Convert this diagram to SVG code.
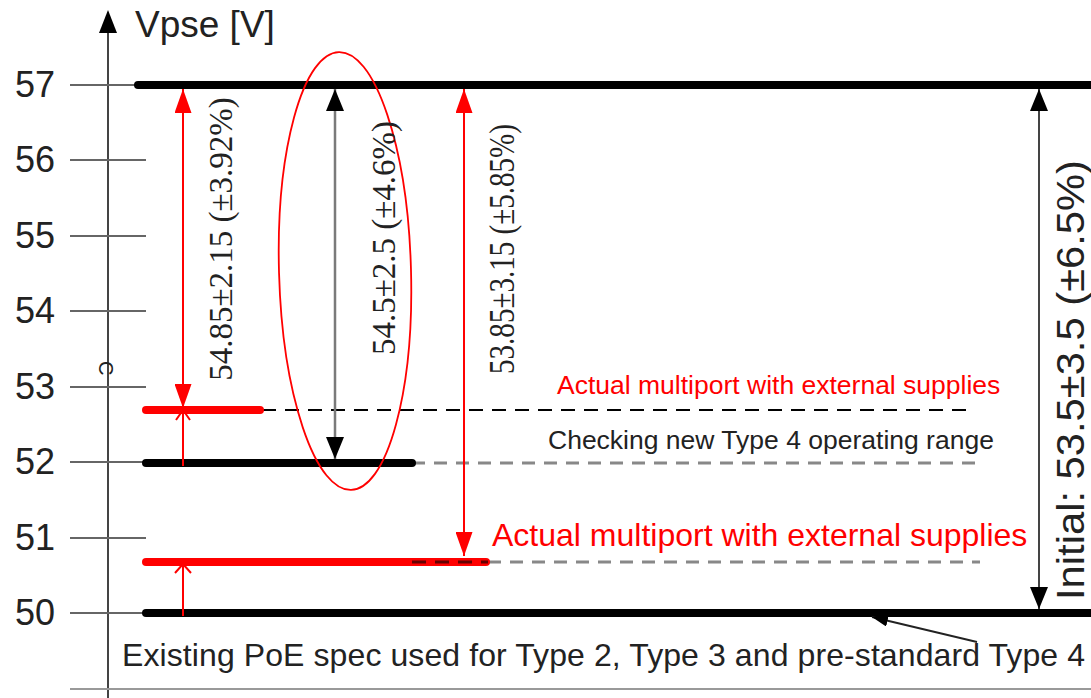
<svg xmlns="http://www.w3.org/2000/svg" width="1091" height="698" viewBox="0 0 1091 698">
<style>
.lbl{font-family:"Liberation Sans",Arial,sans-serif;fill:#222}
.tms{font-family:"Liberation Serif","Times New Roman",serif;fill:#222}
.tick{stroke:#666;stroke-width:2}
.blk{stroke:#000;stroke-width:8;stroke-linecap:round}
.rd{stroke:#ff0000;stroke-width:8;stroke-linecap:round}
.gdash{stroke:#888;stroke-width:3;stroke-dasharray:13 9}
.bdash{stroke:#000;stroke-width:2;stroke-dasharray:14 9}
.ra{stroke:#ff0000;stroke-width:2;fill:none}
.ba{stroke:#7a7a7a;stroke-width:2.5;fill:none}
</style>
<defs>
<marker id="hr" viewBox="0 0 24 17" refX="24" refY="8.5" markerWidth="24" markerHeight="17" markerUnits="userSpaceOnUse" orient="auto-start-reverse"><path d="M0,0 L24,8.5 L0,17 z" fill="#ff0000"/></marker>
<marker id="hb" viewBox="0 0 22 18" refX="22" refY="9" markerWidth="22" markerHeight="18" markerUnits="userSpaceOnUse" orient="auto-start-reverse"><path d="M0,0 L22,9 L0,18 z" fill="#000"/></marker>
<marker id="hs" viewBox="0 0 16 12" refX="16" refY="6" markerWidth="16" markerHeight="12" markerUnits="userSpaceOnUse" orient="auto"><path d="M0,0 L16,6 L0,12 z" fill="#000"/></marker>
</defs>

<g id="axis">
<line x1="108" y1="30" x2="108" y2="698" stroke="#444" stroke-width="2"/>
<path d="M108,10 L117,33 L99,33 z" fill="#000"/>
<text class="lbl" x="135" y="37" font-size="37">Vpse [V]</text>
<line class="tick" x1="70" y1="85" x2="140" y2="85"/>
<line class="tick" x1="70" y1="160" x2="146" y2="160"/>
<line class="tick" x1="70" y1="236" x2="146" y2="236"/>
<line class="tick" x1="70" y1="311" x2="146" y2="311"/>
<line class="tick" x1="70" y1="387" x2="146" y2="387"/>
<line class="tick" x1="70" y1="462" x2="146" y2="462"/>
<line class="tick" x1="70" y1="538" x2="146" y2="538"/>
<line class="tick" x1="70" y1="613" x2="146" y2="613"/>
<line x1="70" y1="689" x2="1091" y2="689" stroke="#999" stroke-width="2"/>
<g class="lbl" font-size="36" text-anchor="end">
<text x="55" y="97">57</text>
<text x="55" y="172">56</text>
<text x="55" y="248">55</text>
<text x="55" y="323">54</text>
<text x="55" y="399">53</text>
<text x="55" y="474">52</text>
<text x="55" y="550">51</text>
<text x="55" y="625">50</text>
</g>
<text class="lbl" x="0" y="0" font-size="20" transform="translate(99,361) rotate(90)">C</text>
</g>

<g id="levels">
<line class="gdash" x1="412" y1="463" x2="980" y2="463"/>
<line class="gdash" x1="488" y1="562" x2="980" y2="562"/>
<line class="bdash" x1="262" y1="410" x2="975" y2="410"/>
<line class="blk" x1="138" y1="85" x2="1095" y2="85"/>
<line class="blk" x1="146" y1="463" x2="412" y2="463"/>
<line class="blk" x1="146" y1="613" x2="1095" y2="613"/>
<line class="rd" x1="146" y1="410" x2="260" y2="410"/>
<line class="rd" x1="146" y1="562" x2="486" y2="562"/>
<line x1="412" y1="562" x2="488" y2="562" stroke="#660000" stroke-width="3" stroke-dasharray="14 9"/>
</g>

<g id="ellipse">
<ellipse cx="345" cy="271" rx="66" ry="219" fill="none" stroke="#ff0000" stroke-width="1.8" transform="rotate(-1.6 345 271)"/>
</g>

<g id="connectors">
<line class="ra" x1="183" y1="89" x2="183" y2="408" marker-start="url(#hr)" marker-end="url(#hr)"/>
<line class="ra" x1="183" y1="466" x2="183" y2="411"/>
<polyline class="ra" points="176,420 183,410 190,420"/>
<line class="ra" x1="183" y1="616" x2="183" y2="564"/>
<polyline class="ra" points="175,573 183,564 191,573"/>
<line class="ba" x1="335" y1="89" x2="335" y2="459" marker-start="url(#hb)" marker-end="url(#hb)"/>
<line class="ra" x1="464" y1="89" x2="464" y2="556" marker-start="url(#hr)" marker-end="url(#hr)"/>
<line x1="1039" y1="89" x2="1039" y2="609" stroke="#444" stroke-width="2" marker-start="url(#hb)" marker-end="url(#hb)"/>
<line x1="977" y1="642" x2="872" y2="617" stroke="#222" stroke-width="1.8" marker-end="url(#hs)"/>
</g>

<g id="texts">
<text class="tms" font-size="33" text-anchor="middle" transform="translate(232,239) rotate(-90)">54.85±2.15 (±3.92%)</text>
<text class="tms" font-size="33" text-anchor="middle" transform="translate(395,238) rotate(-90)">54.5±2.5 (±4.6%)</text>
<text class="tms" font-size="35" text-anchor="middle" textLength="250" lengthAdjust="spacingAndGlyphs" transform="translate(514,249) rotate(-90)">53.85±3.15 (±5.85%)</text>
<text class="lbl" font-size="38" text-anchor="middle" textLength="440" lengthAdjust="spacingAndGlyphs" transform="translate(1084,380) rotate(-90)">Initial: 53.5±3.5 (±6.5%)</text>
<text class="lbl" x="557" y="394" font-size="26.5" style="fill:#ff0000">Actual multiport with external supplies</text>
<text class="lbl" x="548" y="449" font-size="26.5">Checking new Type 4 operating range</text>
<text class="lbl" x="492" y="546" font-size="32" style="fill:#ff0000">Actual multiport with external supplies</text>
<text class="lbl" x="122" y="666" font-size="32" textLength="963" lengthAdjust="spacing">Existing PoE spec used for Type 2, Type 3 and pre-standard Type 4</text>
</g>
</svg>
